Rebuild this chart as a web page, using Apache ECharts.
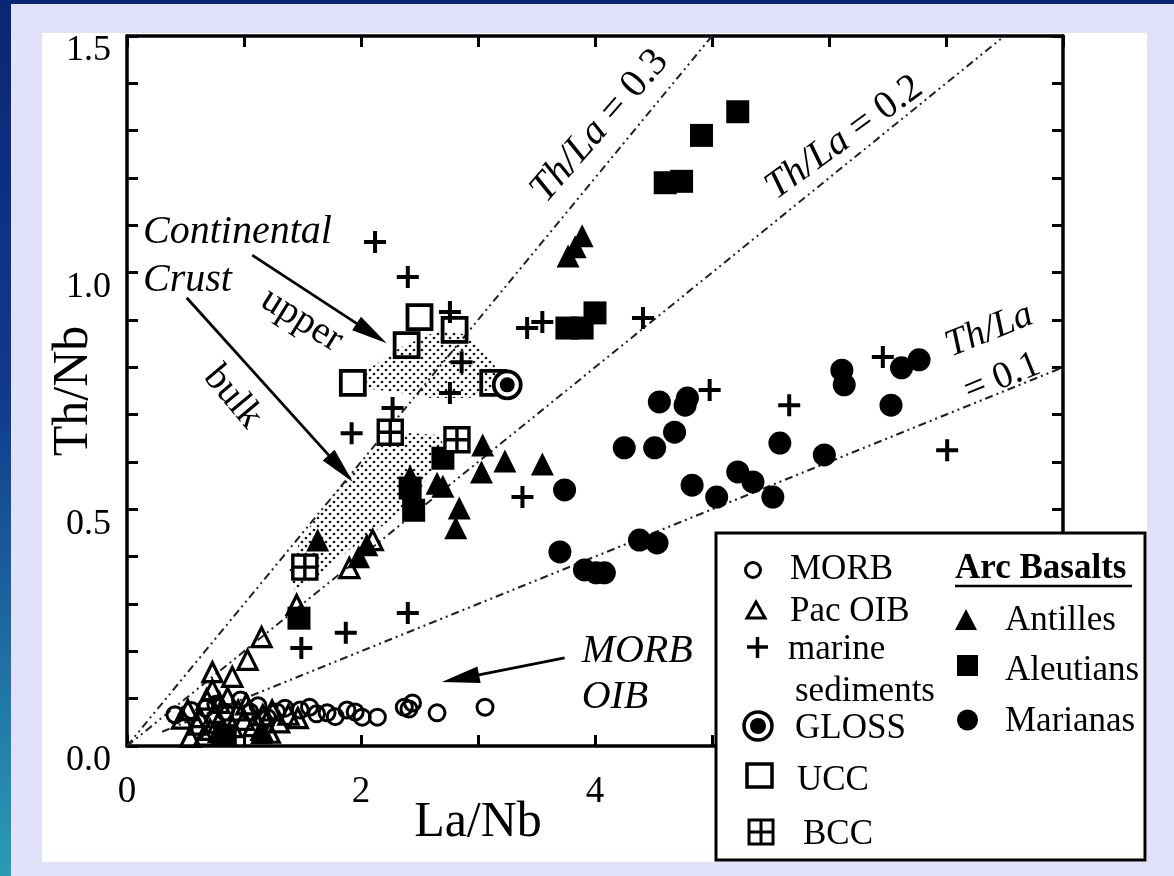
<!DOCTYPE html>
<html>
<head>
<meta charset="utf-8">
<title>Th/Nb vs La/Nb</title>
<script src="https://cdn.jsdelivr.net/npm/echarts@6/dist/echarts.min.js"></script>
<style>
  html, body { margin: 0; padding: 0; width: 1174px; height: 876px; overflow: hidden; background: #e1e1f9; }
  #strip { position: absolute; left: 0; top: 0; width: 11px; height: 876px;
           background: linear-gradient(#0a2676 0%, #103a8e 45%, #2a9bb5 100%); }
  #topbar { position: absolute; left: 0; top: 0; width: 1174px; height: 4px; background: #0a2676; }
  #panel { position: absolute; left: 42px; top: 33px; width: 1105px; height: 829px; background: #ffffff; }
  #chart { position: absolute; left: 0; top: 0; width: 1174px; height: 876px; }
</style>
</head>
<body>
<div id="strip"></div>
<div id="topbar"></div>
<div id="panel"></div>
<div id="chart"></div>
<script>
// ---- Data: [La/Nb, Th/Nb] pairs per group ----
const MORB = [[3.06,0.082],[2.65,0.070],[2.44,0.091],[2.37,0.082],[2.14,0.061],[2.01,0.061],[1.88,0.076],
  [1.71,0.070],[1.56,0.082],[1.48,0.076],[1.35,0.080],[0.97,0.097],[0.67,0.080],[0.84,0.072],[1.05,0.072],
  [0.41,0.066],[1.20,0.060],[0.55,0.075],[1.62,0.068],[1.78,0.062],[1.95,0.072],[2.41,0.078],[1.28,0.072],
  [0.76,0.088],[1.12,0.085]];
const PAC_OIB = [[1.15,0.230],[1.03,0.182],[0.73,0.156],[0.90,0.146],[0.73,0.118],[0.52,0.076],[0.62,0.061],
  [0.78,0.049],[0.71,0.034],[0.79,0.091],[0.90,0.040],[1.16,0.065],[1.15,0.034],[1.46,0.059],[1.45,0.298],
  [1.90,0.376],[2.10,0.435],[0.54,0.019],[0.95,0.075],[1.30,0.050],[0.60,0.045],[0.68,0.098],[0.86,0.102],
  [1.00,0.055],[1.08,0.042],[0.66,0.022],[0.84,0.025],[1.24,0.075],[1.38,0.066],[1.22,0.028],[0.47,0.058],
  [0.75,0.070],[1.02,0.088]];
const MARINE_SED = [[2.12,1.065],[2.40,0.991],[2.76,0.917],[2.86,0.811],[2.76,0.746],[1.92,0.661],[2.27,0.714],
  [3.42,0.883],[3.55,0.896],[4.41,0.904],[4.98,0.752],[5.66,0.720],[6.46,0.822],[7.01,0.625],[3.38,0.526],
  [1.49,0.207],[1.87,0.239],[2.40,0.281]];
const GLOSS = [[3.25,0.763]];
const UCC = [[2.50,0.906],[2.39,0.847],[1.93,0.767],[2.80,0.879],[3.13,0.767]];
const BCC = [[2.25,0.663],[2.82,0.647],[1.52,0.378]];
const ANTILLES = [[3.77,1.035],[3.83,1.055],[3.89,1.078],[3.04,0.636],[3.23,0.602],[3.55,0.596],[3.03,0.579],
  [2.84,0.503],[2.81,0.461],[2.70,0.549],[1.98,0.400],[2.05,0.425],[1.63,0.435],[2.42,0.570],[2.65,0.555],
  [0.78,0.030],[1.15,0.028]];
const ALEUTIANS = [[4.60,1.190],[4.74,1.193],[4.91,1.290],[5.22,1.340],[3.76,0.883],[3.89,0.883],[4.00,0.915],
  [1.47,0.270],[2.42,0.545],[2.45,0.498],[2.70,0.608],[0.84,0.022]];
const MARIANAS = [[3.70,0.410],[3.91,0.372],[4.01,0.366],[4.08,0.366],[4.38,0.435],[4.53,0.429],[3.74,0.541],
  [4.25,0.630],[4.51,0.630],[4.55,0.727],[4.77,0.720],[4.79,0.735],[4.68,0.663],[4.83,0.551],[5.04,0.526],
  [5.22,0.579],[5.35,0.558],[5.52,0.526],[5.58,0.640],[5.96,0.615],[6.11,0.794],[6.13,0.763],[6.53,0.720],
  [6.62,0.799],[6.77,0.816]];

// Constant Th/La reference lines (end points in La/Nb, Th/Nb)
const LINE_TH_LA_03 = [[0,0],[5,1.5]];
const LINE_TH_LA_02 = [[0,0],[7.5,1.5]];
const LINE_TH_LA_01 = [[0.3,0.03],[8,0.8]];

// Continental crust fields (outlines in La/Nb, Th/Nb)
const FIELD_UPPER = [[2.03,0.790],[2.33,0.841],[2.67,0.879],[2.93,0.868],[3.14,0.805],[3.19,0.763],
  [2.93,0.735],[2.59,0.735],[2.29,0.748],[2.03,0.756]];
const FIELD_BULK = [[1.39,0.372],[1.48,0.435],[1.73,0.520],[1.99,0.594],[2.29,0.663],[2.67,0.657],
  [2.72,0.625],[2.50,0.541],[2.25,0.477],[1.90,0.414],[1.65,0.361],[1.43,0.330]];

// Axis labels
const X_LABELS = [0, 2, 4];
const Y_LABELS = ['0.0', '0.5', '1.0', '1.5'];

const FONT = '"Liberation Serif", "Times New Roman", Times, serif';

function stippleCanvas() {
  const c = document.createElement('canvas');
  c.width = 8; c.height = 8;
  const g = c.getContext('2d');
  g.fillStyle = '#111';
  g.beginPath(); g.arc(2, 2, 1.35, 0, Math.PI * 2); g.fill();
  g.beginPath(); g.arc(6, 6, 1.35, 0, Math.PI * 2); g.fill();
  return c;
}
const STIPPLE = { image: stippleCanvas(), repeat: 'repeat' };

const chart = echarts.init(document.getElementById('chart'), null, { renderer: 'canvas' });

const axisBase = {
  type: 'value',
  axisLine: { show: true, onZero: false, lineStyle: { color: '#000', width: 3.5 } },
  axisTick: { show: true, inside: true, length: 11, lineStyle: { color: '#000', width: 3 } },
  splitLine: { show: false },
  minorTick: { show: false }
};

function scatter(name, data, symbol, size, fill, stroke, lw, z) {
  return {
    type: 'scatter', name, data, symbol, symbolSize: size, z: z, silent: true,
    itemStyle: { color: fill, borderColor: stroke, borderWidth: lw, opacity: 1 },
    emphasis: { disabled: true }
  };
}

function refLine(data) {
  return {
    type: 'line', data, showSymbol: false, symbol: 'none', silent: true, z: 1,
    lineStyle: { color: '#222', width: 2, type: [8, 4, 2, 4, 2, 4] }
  };
}

function fieldSeries(poly) {
  return {
    type: 'custom', silent: true, z: 0, data: [[0, 0]],
    renderItem: (params, api) => ({
      type: 'polygon',
      shape: { points: poly.map(p => api.coord(p)) },
      style: { fill: STIPPLE, stroke: 'none' }
    })
  };
}

const PLUS = 'path://M0,5H10M5,0V10';
const GRID_SQ = 'path://M0,0H10V10H0ZM5,0V10M0,5H10';
const CLEAR = 'rgba(0,0,0,0)';

chart.setOption({
  animation: false,
  backgroundColor: 'transparent',
  grid: { left: 127, right: 111, top: 36, bottom: 130, containLabel: false, outerBoundsMode: 'none' },
  xAxis: [
    Object.assign({}, axisBase, {
      position: 'bottom', min: 0, max: 8, interval: 1,
      axisLabel: { show: true, margin: 28, fontFamily: FONT, fontSize: 37, color: '#000',
        formatter: v => (X_LABELS.indexOf(Math.round(v)) >= 0 ? String(Math.round(v)) : '') },
      name: 'La/Nb', nameLocation: 'middle', nameGap: 52, nameMoveOverlap: false,
      nameTextStyle: { fontFamily: FONT, fontSize: 50, color: '#000', padding: [0, 234, 0, 0] }
    }),
    Object.assign({}, axisBase, { position: 'top', min: 0, max: 8, interval: 1, axisLabel: { show: false } })
  ],
  yAxis: [
    Object.assign({}, axisBase, {
      position: 'left', min: 0, max: 1.5, interval: 0.1,
      axisLabel: { show: true, margin: 16, fontFamily: FONT, fontSize: 36, color: '#000',
        verticalAlign: 'top', lineHeight: 30,
        formatter: v => {
          const s = (Math.round(v * 10) / 10).toFixed(1);
          return Y_LABELS.indexOf(s) >= 0 ? s : '';
        } },
      name: 'Th/Nb', nameLocation: 'middle', nameGap: 28, nameRotate: 90, nameMoveOverlap: false,
      nameTextStyle: { fontFamily: FONT, fontSize: 50, color: '#000' }
    }),
    Object.assign({}, axisBase, { position: 'right', min: 0, max: 1.5, interval: 0.1, axisLabel: { show: false } })
  ],
  series: [
    fieldSeries(FIELD_UPPER),
    fieldSeries(FIELD_BULK),
    refLine(LINE_TH_LA_03),
    refLine(LINE_TH_LA_02),
    refLine(LINE_TH_LA_01),
    scatter('MORB', MORB, 'circle', 16, CLEAR, '#000', 3, 3),
    scatter('Pac OIB', PAC_OIB, 'triangle', 19, CLEAR, '#000', 3.2, 3),
    scatter('Antilles', ANTILLES, 'triangle', 23, '#000', '#000', 0, 4),
    scatter('Aleutians', ALEUTIANS, 'rect', 23, '#000', '#000', 0, 4),
    scatter('Marianas', MARIANAS, 'circle', 23, '#000', '#000', 0, 4),
    scatter('marine sediments', MARINE_SED, PLUS, 22, CLEAR, '#000', 4, 5),
    scatter('UCC', UCC, 'rect', 24, CLEAR, '#000', 3.8, 5),
    scatter('BCC', BCC, GRID_SQ, 24, '#fff', '#000', 3.4, 5),
    scatter('GLOSS', GLOSS, 'circle', 27, '#fff', '#000', 3.8, 6),
    scatter('GLOSS core', GLOSS, 'circle', 15, '#000', '#000', 0, 7)
  ]
});

// ---- Annotations anchored in data space ----
const px = p => chart.convertToPixel({ xAxisIndex: 0, yAxisIndex: 0 }, p);
const deg = d => d * Math.PI / 180;

function arrow(from, to, headLen, headW) {
  const a = px(from), b = px(to);
  const dx = b[0] - a[0], dy = b[1] - a[1], L = Math.hypot(dx, dy);
  const ux = dx / L, uy = dy / L, nx = -uy, ny = ux;
  const bx = b[0] - ux * headLen, by = b[1] - uy * headLen;
  return [
    { type: 'line', z: 50, shape: { x1: a[0], y1: a[1], x2: bx + ux * 4, y2: by + uy * 4 },
      style: { stroke: '#000', lineWidth: 2.8 } },
    { type: 'polygon', z: 50, shape: { points: [[b[0], b[1]],
        [bx + nx * headW / 2, by + ny * headW / 2], [bx - nx * headW / 2, by - ny * headW / 2]] },
      style: { fill: '#000' } }
  ];
}

function label(pos, text, opt) {
  const p = px(pos);
  const o = opt || {};
  return {
    type: 'text', z: 50, x: p[0], y: p[1], rotation: deg(o.rot || 0),
    style: {
      text, fill: '#000', fontFamily: FONT, fontSize: o.size || 40,
      fontStyle: o.italic ? 'italic' : 'normal', fontWeight: 'normal',
      align: o.align || 'left', verticalAlign: 'middle', rich: o.rich
    }
  };
}

function ratioLabel(pos, ratioText, rot, sz) {
  return label(pos, '{i|Th/La}{r| = ' + ratioText + '}', {
    rot, align: 'center', size: sz,
    rich: {
      i: { fontFamily: FONT, fontSize: sz, fontStyle: 'italic', fill: '#000' },
      r: { fontFamily: FONT, fontSize: sz, fontStyle: 'normal', fill: '#000' }
    }
  });
}

const annotations = [].concat(
  [
    label([0.137, 1.084], 'Continental', { italic: true, size: 40 }),
    label([0.137, 0.984], 'Crust', { italic: true, size: 40 }),
    label([1.494, 0.900], 'upper', { size: 39, rot: -32, align: 'center' }),
    label([0.905, 0.737], 'bulk', { size: 39, rot: -50, align: 'center' }),
    label([3.886, 0.199], 'MORB', { italic: true, size: 40 }),
    label([3.886, 0.1035], 'OIB', { italic: true, size: 40 }),
    ratioLabel([4.04, 1.31], '0.3', 49, 40),
    ratioLabel([6.13, 1.285], '0.2', 36, 39),
    label([7.37, 0.878], 'Th/La', { italic: true, size: 38, rot: 22, align: 'center' }),
    label([7.48, 0.778], '= 0.1', { size: 38, rot: 22, align: 'center' })
  ],
  arrow([1.07, 1.037], [2.22, 0.851], 36, 16),
  arrow([0.51, 0.947], [1.93, 0.558], 36, 16),
  arrow([3.74, 0.186], [2.69, 0.135], 38, 17)
);

// ---- Legend box ----
const LEG_FONT = { fontFamily: FONT, fontSize: 35, fill: '#000', verticalAlign: 'middle', align: 'left' };
function legText(x, y, text, extra) {
  return { type: 'text', z: 60, x, y, style: Object.assign({ text }, LEG_FONT, extra || {}) };
}
const legend = [
  { type: 'rect', z: 55, shape: { x: 716, y: 533, width: 429, height: 327 },
    style: { fill: '#fff', stroke: '#000', lineWidth: 3 } },
  { type: 'circle', z: 60, shape: { cx: 753, cy: 570, r: 7.5 }, style: { fill: 'none', stroke: '#000', lineWidth: 3 } },
  legText(790, 570, 'MORB'),
  { type: 'polygon', z: 60, shape: { points: [[756, 602], [765, 618], [747, 618]] },
    style: { fill: 'none', stroke: '#000', lineWidth: 3 } },
  legText(790, 612, 'Pac OIB'),
  { type: 'line', z: 60, shape: { x1: 747, y1: 647, x2: 768, y2: 647 }, style: { stroke: '#000', lineWidth: 3.5 } },
  { type: 'line', z: 60, shape: { x1: 757.5, y1: 637, x2: 757.5, y2: 658 }, style: { stroke: '#000', lineWidth: 3.5 } },
  legText(788, 650, 'marine'),
  legText(795, 692, 'sediments'),
  { type: 'circle', z: 60, shape: { cx: 758, cy: 726, r: 14 }, style: { fill: '#fff', stroke: '#000', lineWidth: 3.5 } },
  { type: 'circle', z: 61, shape: { cx: 758, cy: 726, r: 8 }, style: { fill: '#000' } },
  legText(795, 729, 'GLOSS'),
  { type: 'rect', z: 60, shape: { x: 747, y: 764, width: 25, height: 23 }, style: { fill: 'none', stroke: '#000', lineWidth: 3.5 } },
  legText(797, 781, 'UCC'),
  { type: 'rect', z: 60, shape: { x: 749, y: 820, width: 24, height: 24 }, style: { fill: '#fff', stroke: '#000', lineWidth: 3 } },
  { type: 'line', z: 60, shape: { x1: 761, y1: 820, x2: 761, y2: 844 }, style: { stroke: '#000', lineWidth: 3 } },
  { type: 'line', z: 60, shape: { x1: 749, y1: 832, x2: 773, y2: 832 }, style: { stroke: '#000', lineWidth: 3 } },
  legText(803, 835, 'BCC'),
  legText(955, 569, 'Arc Basalts', { fontWeight: 'bold' }),
  { type: 'line', z: 60, shape: { x1: 955, y1: 586, x2: 1132, y2: 586 }, style: { stroke: '#000', lineWidth: 2.5 } },
  { type: 'polygon', z: 60, shape: { points: [[966, 609], [977, 630], [955, 630]] }, style: { fill: '#000' } },
  legText(1005, 621, 'Antilles'),
  { type: 'rect', z: 60, shape: { x: 957, y: 655, width: 21, height: 21 }, style: { fill: '#000' } },
  legText(1005, 671, 'Aleutians'),
  { type: 'circle', z: 60, shape: { cx: 967.5, cy: 720, r: 10.5 }, style: { fill: '#000' } },
  legText(1005, 722, 'Marianas')
];

chart.setOption({ graphic: { elements: annotations.concat(legend) } });
</script>
</body>
</html>
